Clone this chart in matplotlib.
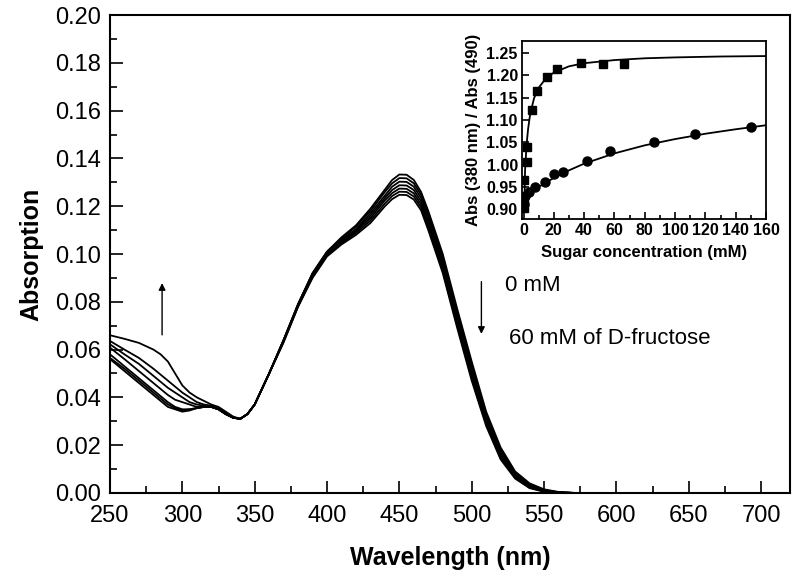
import matplotlib.pyplot as plt
from matplotlib.ticker import MultipleLocator

plt.rcParams['font.family'] = ['Liberation Sans', 'DejaVu Sans']

# UV-vis spectra, wavelength in nm
wavelength = [250, 260, 270, 280, 285, 290, 295, 300, 305, 310, 315, 320, 325, 330, 335,
              340, 345, 350, 360, 370, 380, 390, 400, 410, 420, 430, 440, 445, 450, 455,
              460, 465, 470, 480, 490, 500, 510, 520, 530, 540, 550, 560, 570]

abs_0mM = [0.0560, 0.0510, 0.0460, 0.0410, 0.0385, 0.0360, 0.0350, 0.0340, 0.0345, 0.0355,
           0.0360, 0.0360, 0.0350, 0.0330, 0.0315, 0.0310, 0.0330, 0.0370,
           0.0500, 0.0640, 0.0790, 0.0920, 0.1010, 0.1070, 0.1120, 0.1190, 0.1270,
           0.1310, 0.1333, 0.1332, 0.1310, 0.1260, 0.1180,
           0.1000, 0.0770, 0.0550, 0.0340, 0.0190, 0.0090, 0.0040, 0.0015, 0.0004, 0.0000]
abs_5mM = [0.0565, 0.0520, 0.0470, 0.0420, 0.0395, 0.0370, 0.0355, 0.0345, 0.0350, 0.0355,
           0.0360, 0.0360, 0.0350, 0.0330, 0.0315, 0.0310, 0.0330, 0.0370,
           0.0500, 0.0640, 0.0790, 0.0920, 0.1010, 0.1065, 0.1115, 0.1180, 0.1260,
           0.1296, 0.1318, 0.1317, 0.1296, 0.1248, 0.1170,
           0.0985, 0.0755, 0.0535, 0.0330, 0.0180, 0.0085, 0.0035, 0.0012, 0.0003, 0.0000]
abs_10mM = [0.0580, 0.0530, 0.0480, 0.0430, 0.0405, 0.0380, 0.0360, 0.0350, 0.0350, 0.0355,
            0.0360, 0.0360, 0.0350, 0.0330, 0.0315, 0.0310, 0.0330, 0.0370,
            0.0500, 0.0640, 0.0790, 0.0915, 0.1005, 0.1060, 0.1105, 0.1170, 0.1245,
            0.1282, 0.1303, 0.1302, 0.1282, 0.1235, 0.1155,
            0.0970, 0.0740, 0.0520, 0.0320, 0.0170, 0.0080, 0.0032, 0.0010, 0.0002, 0.0000]
abs_20mM = [0.0608, 0.0560, 0.0510, 0.0460, 0.0435, 0.0410, 0.0390, 0.0380, 0.0370, 0.0360,
            0.0360, 0.0360, 0.0350, 0.0330, 0.0315, 0.0310, 0.0330, 0.0370,
            0.0500, 0.0640, 0.0785, 0.0910, 0.1000, 0.1055, 0.1100, 0.1160, 0.1235,
            0.1268, 0.1288, 0.1287, 0.1268, 0.1221, 0.1140,
            0.0955, 0.0725, 0.0505, 0.0310, 0.0162, 0.0074, 0.0028, 0.0008, 0.0002, 0.0000]
abs_30mM = [0.0622, 0.0580, 0.0540, 0.0490, 0.0465, 0.0440, 0.0420, 0.0400, 0.0380, 0.0370,
            0.0365, 0.0360, 0.0350, 0.0330, 0.0315, 0.0310, 0.0330, 0.0370,
            0.0500, 0.0635, 0.0785, 0.0910, 0.1000, 0.1050, 0.1095, 0.1150, 0.1225,
            0.1255, 0.1274, 0.1273, 0.1254, 0.1208, 0.1125,
            0.0940, 0.0712, 0.0492, 0.0300, 0.0155, 0.0068, 0.0025, 0.0007, 0.0001, 0.0000]
abs_45mM = [0.0636, 0.0600, 0.0565, 0.0520, 0.0495, 0.0470, 0.0445, 0.0420, 0.0400, 0.0380,
            0.0370, 0.0365, 0.0355, 0.0335, 0.0315, 0.0310, 0.0330, 0.0370,
            0.0500, 0.0635, 0.0780, 0.0905, 0.0995, 0.1045, 0.1088, 0.1140, 0.1212,
            0.1243, 0.1261, 0.1260, 0.1241, 0.1196, 0.1112,
            0.0930, 0.0700, 0.0480, 0.0290, 0.0148, 0.0064, 0.0022, 0.0006, 0.0001, 0.0000]
abs_60mM = [0.0660, 0.0645, 0.0628, 0.0600, 0.0580, 0.0550, 0.0500, 0.0450, 0.0420, 0.0400,
            0.0385, 0.0370, 0.0360, 0.0340, 0.0320, 0.0310, 0.0330, 0.0370,
            0.0500, 0.0630, 0.0780, 0.0900, 0.0990, 0.1040, 0.1080, 0.1130, 0.1200,
            0.1230, 0.1248, 0.1247, 0.1228, 0.1183, 0.1100,
            0.0920, 0.0690, 0.0470, 0.0280, 0.0140, 0.0060, 0.0020, 0.0005, 0.0000, 0.0000]

# inset: ratio vs sugar concentration
fru_conc = [0.3, 0.4, 0.5, 2.2, 2.6, 5.9, 8.8, 15.8, 21.9, 37.7, 52.6, 66.2]
fru_ratio = [0.902, 0.917, 0.965, 1.006, 1.040, 1.122, 1.165, 1.196, 1.214, 1.227, 1.225, 1.226]
fru_fit_x = [0.5, 1, 2, 3, 4, 5, 7, 10, 15, 20, 30, 40, 60, 80, 100, 130, 160]
fru_fit_y = [0.900, 0.985, 1.044, 1.079, 1.104, 1.122, 1.149, 1.172, 1.194, 1.206, 1.220,
             1.227, 1.234, 1.238, 1.240, 1.242, 1.243]

glu_conc = [0.4, 1.0, 3.7, 7.5, 14, 20, 26, 42, 57, 86, 113, 150]
glu_ratio = [0.912, 0.930, 0.939, 0.950, 0.960, 0.978, 0.983, 1.007, 1.031, 1.051, 1.069, 1.085]
glu_fit_x = [0, 2, 5, 10, 20, 30, 40, 60, 80, 100, 120, 140, 160]
glu_fit_y = [0.920, 0.930, 0.938, 0.950, 0.970, 0.987, 1.002, 1.025, 1.043, 1.057, 1.069,
             1.079, 1.088]

fig = plt.figure(figsize=(8, 5.84), dpi=100)
ax = fig.add_axes([0.1375, 0.156, 0.85, 0.818])

for spec in [abs_0mM, abs_5mM, abs_10mM, abs_20mM, abs_30mM, abs_45mM, abs_60mM]:
    ax.plot(wavelength, spec, color='black', lw=1.3)

ax.set_xlim(250, 720)
ax.set_ylim(0, 0.20)
ax.xaxis.set_major_locator(MultipleLocator(50))
ax.xaxis.set_minor_locator(MultipleLocator(25))
ax.yaxis.set_major_locator(MultipleLocator(0.02))
ax.yaxis.set_minor_locator(MultipleLocator(0.01))
ax.yaxis.set_major_formatter(lambda v, p: f"{v:.2f}")
ax.tick_params(which='both', direction='in', width=1.2, labelsize=17, top=False, right=False)
ax.tick_params(axis='x', pad=8.5)
ax.tick_params(axis='y', pad=6.5)
ax.tick_params(which='major', length=9)
ax.tick_params(which='minor', length=5)
for s in ax.spines.values():
    s.set_linewidth(1.5)
ax.set_xlabel("Wavelength (nm)", fontsize=18, fontweight='bold', labelpad=14)
ax.set_ylabel("Absorption", fontsize=18, fontweight='bold', labelpad=8)

# arrows and annotations
ax.annotate("", xy=(286, 0.089), xytext=(286, 0.065),
            arrowprops=dict(arrowstyle='-|>', color='black', lw=1, mutation_scale=10))
ax.annotate("", xy=(506.7, 0.0654), xytext=(506.7, 0.0896),
            arrowprops=dict(arrowstyle='-|>', color='black', lw=1, mutation_scale=10))
ax.text(522.8, 0.0867, "0 mM", fontsize=16, va='center', ha='left')
ax.text(526, 0.0646, "60 mM of D-fructose", fontsize=16, va='center', ha='left')

# inset
ins = fig.add_axes([0.6525, 0.625, 0.305, 0.305])
ins.plot(fru_fit_x, fru_fit_y, color='black', lw=1.3)
ins.plot(glu_fit_x, glu_fit_y, color='black', lw=1.3)
ins.plot(fru_conc, fru_ratio, 's', color='black', ms=6)
ins.plot(glu_conc, glu_ratio, 'o', color='black', ms=6.5)
ins.set_xlim(-1, 160)
ins.set_ylim(0.878, 1.277)
ins.xaxis.set_major_locator(MultipleLocator(20))
ins.xaxis.set_minor_locator(MultipleLocator(10))
ins.yaxis.set_major_locator(MultipleLocator(0.05))
ins.yaxis.set_major_formatter(lambda v, p: f"{v:.2f}")
ins.tick_params(which='both', direction='in', width=1.2, labelsize=11.5, top=False, right=False, pad=3)
ins.tick_params(which='major', length=5)
ins.tick_params(which='minor', length=3)
for lab in ins.get_xticklabels() + ins.get_yticklabels():
    lab.set_fontweight('bold')
for s in ins.spines.values():
    s.set_linewidth(1.3)
ins.set_xlabel("Sugar concentration (mM)", fontsize=12, fontweight='bold', labelpad=5)
ins.set_ylabel("Abs (380 nm) / Abs (490)", fontsize=12, fontweight='bold', labelpad=4)

fig.savefig("out.png", dpi=100)
